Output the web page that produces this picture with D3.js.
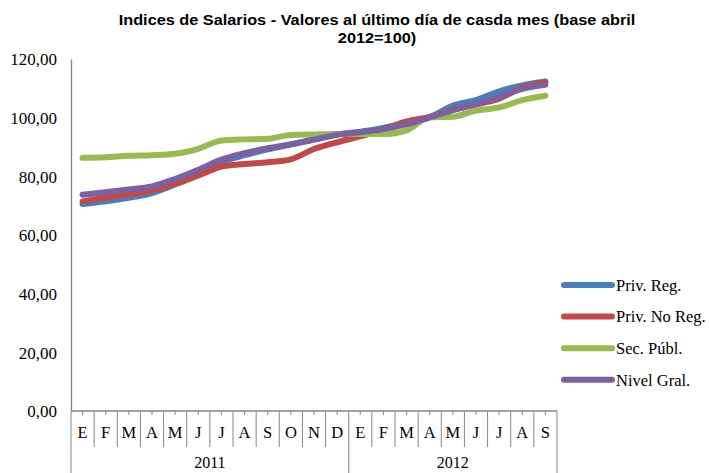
<!DOCTYPE html>
<html lang="es">
<head>
  <meta charset="UTF-8" />
  <title>Indices de Salarios</title>
  <script src="https://d3js.org/d3.v7.min.js"></script>
  <style>
    body {margin: 0; background: #fff;}
    svg {display: block;}
  </style>
</head>
<body>
<script>
  // ****DATA****
  const months = ["E","F","M","A","M","J","J","A","S","O","N","D","E","F","M","A","M","J","J","A","S"];
  const years = ["2011", "2012"];
  const monthsPerYear = [12, 9];
  const seriesNames = ["Priv. Reg.", "Priv. No Reg.", "Sec. Públ.", "Nivel Gral."];
  const privReg   = [70.6, 71.5, 72.7, 74.3, 77.2, 80.8, 84.8, 87.2, 89.2, 90.9, 92.6, 94.3, 95.2, 96.5, 98.3, 100.1, 104.1, 106.0, 109.0, 111.0, 112.3];
  const privNoReg = [71.4, 72.8, 73.8, 75.2, 77.4, 80.3, 83.3, 84.2, 84.8, 85.8, 89.3, 91.6, 93.6, 96.0, 98.7, 100.3, 102.7, 104.5, 106.5, 110.3, 112.1];
  const secPubl   = [86.3, 86.5, 87.0, 87.2, 87.7, 89.4, 92.2, 92.6, 92.8, 94.1, 94.3, 94.4, 94.4, 94.4, 95.7, 100.1, 100.3, 102.4, 103.5, 106.0, 107.5];
  const nivelGral = [73.7, 74.6, 75.5, 76.6, 79.1, 82.2, 85.7, 87.9, 89.6, 90.9, 92.5, 94.2, 95.0, 96.1, 97.8, 100.1, 102.6, 104.6, 107.0, 109.8, 111.2];
  const yTicks = [0, 20, 40, 60, 80, 100, 120];

  const seriesValues = [privReg, privNoReg, secPubl, nivelGral];
  const colors = ["#4A7EBB", "#BE4B48", "#98B954", "#7D60A0"];

  // ****CANVAS****
  const width = 709, height = 473;
  const padLeft = 71, padRight = 557, padTop = 59, padBottom = 411;
  const serifFont = "'Liberation Serif', 'Times New Roman', serif";

  const svg = d3.select("body").append("svg")
                .attr("width", width)
                .attr("height", height);

  // ****SCALES****
  const idx = months.map((m, i) => i);
  const xScale = d3.scaleBand().domain(idx).range([padLeft, padRight]).padding(0);
  const yScale = d3.scaleLinear().domain([0, 120]).range([padBottom, padTop]);
  const fmt = d3.formatLocale({decimal: ",", thousands: ".", grouping: [3], currency: ["", ""]}).format(".2f");

  function serif(sel, size) {
    sel.style("font-family", serifFont).style("font-size", (size || 16.5) + "px").attr("fill", "#000");
  }

  // ****TITLE****
  const title = svg.append("text")
                   .attr("text-anchor", "middle")
                   .attr("font-family", "'Liberation Sans', Arial, sans-serif")
                   .attr("font-weight", "bold")
                   .attr("font-size", "16.3px")
                   .attr("transform", "translate(377,0) scale(1,0.93)");
  title.append("tspan").attr("x", 0).attr("y", 27).text("Indices de Salarios - Valores al último día de casda mes (base abril");
  title.append("tspan").attr("x", 0).attr("y", 46).text("2012=100)");

  // ****Y AXIS****
  const yAxis = d3.axisLeft(yScale).tickValues(yTicks).tickFormat(fmt)
                  .tickSizeInner(0).tickSizeOuter(0).tickPadding(14);
  const yg = svg.append("g").attr("transform", `translate(${padLeft},0)`).call(yAxis);
  yg.select(".domain").attr("stroke", "#868686").attr("stroke-width", 1.3);
  yg.selectAll(".tick text").attr("dy", "0.35em").call(serif, 17);

  // ****X AXIS (two levels)****
  const xg = svg.append("g");
  xg.append("line").attr("x1", padLeft).attr("x2", padRight).attr("y1", padBottom).attr("y2", padBottom)
    .attr("stroke", "#868686").attr("stroke-width", 1.3);

  // small ticks at category centres
  xg.selectAll(".xtick").data(idx).join("line")
    .attr("class", "xtick")
    .attr("x1", (d) => xScale(d) + xScale.bandwidth() / 2)
    .attr("x2", (d) => xScale(d) + xScale.bandwidth() / 2)
    .attr("y1", padBottom).attr("y2", padBottom + 4)
    .attr("stroke", "#868686");

  // month separators
  xg.selectAll(".sep").data(d3.range(months.length + 1)).join("line")
    .attr("class", "sep")
    .attr("x1", (d) => padLeft + d * xScale.step())
    .attr("x2", (d) => padLeft + d * xScale.step())
    .attr("y1", padBottom)
    .attr("y2", (d) => (d === 0 || d === 12 || d === months.length) ? height : padBottom + 36)
    .attr("stroke", "#868686");

  xg.selectAll(".month").data(idx).join("text")
    .attr("class", "month")
    .attr("x", (d) => xScale(d) + xScale.bandwidth() / 2)
    .attr("y", padBottom + 27)
    .attr("text-anchor", "middle")
    .text((d) => months[d])
    .call(serif, 16.5);

  let start = 0;
  years.forEach((y, i) => {
    const n = monthsPerYear[i];
    const cx = xScale(start) + (n * xScale.step()) / 2;
    xg.append("text")
      .attr("x", cx).attr("y", padBottom + 57)
      .attr("text-anchor", "middle").text(y)
      .call(serif, 16);
    start += n;
  });

  // ****LINES****
  const line = d3.line()
                 .x((d, i) => xScale(i) + xScale.bandwidth() / 2)
                 .y((d) => yScale(d))
                 .curve(d3.curveMonotoneX);

  svg.selectAll(".line").data(seriesValues).join("path")
     .attr("class", "line")
     .attr("d", (d) => line(d))
     .attr("fill", "none")
     .attr("stroke", (d, i) => colors[i])
     .attr("stroke-width", 6)
     .attr("stroke-linecap", "round")
     .attr("stroke-linejoin", "round");

  // ****LEGEND****
  const legend = svg.append("g").attr("transform", "translate(564, 285)");
  const items = legend.selectAll(".legend-item").data(seriesNames).join("g")
                      .attr("class", "legend-item")
                      .attr("transform", (d, i) => `translate(0, ${i * 31.6})`);
  items.append("line").attr("x1", 0).attr("x2", 48).attr("y1", 0).attr("y2", 0)
       .attr("stroke", (d, i) => colors[i]).attr("stroke-width", 6)
       .attr("stroke-linecap", "round");
  items.append("text").attr("x", 52).attr("y", 0).attr("dy", "0.35em")
       .text((d) => d)
       .call(serif, 16.5);
</script>
</body>
</html>
